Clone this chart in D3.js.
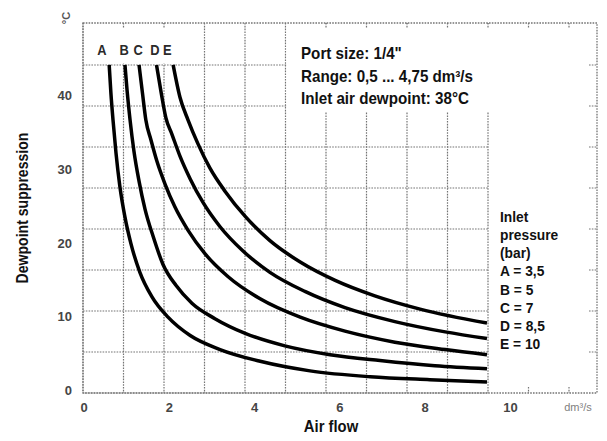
<!DOCTYPE html>
<html><head><meta charset="utf-8">
<script src="https://cdn.jsdelivr.net/npm/d3@7"></script>
<style>
html,body{margin:0;padding:0;background:#fff;}
svg{display:block;}
text{font-family:"Liberation Sans",Arial,Helvetica,sans-serif;font-weight:bold;}
</style></head><body>
<svg id="chart" width="607" height="441"></svg>
<script>
// ---- data ----
const xTickValues = [0, 2, 4, 6, 8, 10];
const yTickValues = [0, 10, 20, 30, 40];
const curveNames = ["A", "B", "C", "D", "E"];
const inletPressure = ["3,5", "5", "7", "8,5", "10"];
const curveLabelFlow = [0.43, 0.95, 1.28, 1.67, 1.96];

const flowA = [0.60, 0.64, 0.69, 0.76, 0.85, 0.97, 1.11, 1.32, 1.60, 1.98, 2.50, 3.20, 4.14, 5.31, 6.72, 8.12, 9.46];
const dewA  = [44.2, 40.4, 36.7, 32.2, 27.7, 23.5, 19.9, 16.0, 12.7, 9.9, 7.4, 5.5, 3.9, 2.6, 1.8, 1.4, 1.1];
const flowB = [0.97, 1.02, 1.09, 1.18, 1.30, 1.44, 1.63, 1.86, 2.17, 2.54, 3.08, 3.79, 4.72, 5.78, 6.95, 8.24, 9.46];
const dewB  = [44.2, 40.7, 36.7, 32.5, 28.4, 24.6, 20.9, 17.1, 14.2, 11.8, 9.7, 7.7, 6.0, 4.8, 4.0, 3.3, 2.9];
const flowC = [1.30, 1.38, 1.46, 1.58, 1.72, 1.91, 2.14, 2.45, 2.85, 3.39, 4.14, 5.08, 6.13, 7.30, 8.48, 9.46];
const dewC  = [44.2, 40.4, 36.7, 34.0, 31.1, 28.0, 24.9, 21.7, 18.5, 15.4, 12.4, 9.9, 8.0, 6.5, 5.5, 4.8];
const flowD = [1.71, 1.82, 1.93, 2.07, 2.26, 2.50, 2.80, 3.20, 3.72, 4.37, 5.19, 6.13, 7.30, 8.48, 9.46];
const dewD  = [44.2, 40.4, 37.0, 34.8, 31.8, 28.7, 25.5, 22.2, 19.0, 16.0, 13.4, 11.2, 9.3, 7.9, 7.0];
const flowE = [2.10, 2.26, 2.45, 2.68, 2.96, 3.32, 3.79, 4.37, 5.08, 5.90, 6.83, 7.89, 9.46];
const dewE  = [44.2, 39.8, 36.7, 33.5, 30.2, 27.0, 23.6, 20.3, 17.4, 14.9, 12.8, 11.0, 9.1];

const infoLines = ["Port size: 1/4\"", "Range: 0,5 ... 4,75 dm\u00b3/s", "Inlet air dewpoint: 38\u00b0C"];
const legendTitle = ["Inlet", "pressure", "(bar)"];

// ---- build ----
const series = [
  {name: "A", flow: flowA, dew: dewA},
  {name: "B", flow: flowB, dew: dewB},
  {name: "C", flow: flowC, dew: dewC},
  {name: "D", flow: flowD, dew: dewD},
  {name: "E", flow: flowE, dew: dewE}
];

const svg = d3.select("#chart");
svg.append("rect").attr("width", 607).attr("height", 441).attr("fill", "#fff");

// data scales (aligned to the tick labels)
const x = d3.scaleLinear().domain([0, 10]).range([83.6, 510]);
const y = d3.scaleLinear().domain([0, 40]).range([390, 95.8]);
// printed grid
const gx = d3.scaleLinear().domain([0, 10]).range([83, 488]);
const gy = d3.scaleLinear().domain([0, 40]).range([393, 65]);
const pLeft = 83, pRight = 597, pTop = 23, pBottom = 393;

const gridColor = "#747474";
const dash = "1.6,1.2";
const grid = svg.append("g").attr("stroke", gridColor).attr("stroke-width", 1.2)
  .attr("stroke-dasharray", dash).attr("fill", "none");

grid.selectAll(".v").data(d3.range(0, 11)).join("line")
  .attr("x1", d => gx(d)).attr("x2", d => gx(d)).attr("y1", pTop).attr("y2", pBottom);
grid.selectAll(".h").data(d3.range(0, 41, 5)).join("line")
  .attr("x1", pLeft).attr("x2", gx(10)).attr("y1", d => gy(d)).attr("y2", d => gy(d));

// blank areas of the printed grid
const masks = [
  [84.5, 24, 202, 63.5],
  [286.5, 24, 490, 112],
  [489.5, 24, 596, 392]
];
svg.selectAll(".mask").data(masks).join("rect")
  .attr("x", d => d[0]).attr("y", d => d[1])
  .attr("width", d => d[2] - d[0]).attr("height", d => d[3] - d[1])
  .attr("fill", "#fff");

const ticks = svg.append("g").attr("stroke", gridColor).attr("stroke-width", 1.2)
  .attr("stroke-dasharray", dash);
ticks.selectAll(".tt").data([1, 2, 6, 7, 8, 9, 10, 11, 12]).join("line")
  .attr("x1", d => gx(d)).attr("x2", d => gx(d)).attr("y1", pTop).attr("y2", pTop + 5);
ticks.selectAll(".bt").data([11, 12]).join("line")
  .attr("x1", d => gx(d)).attr("x2", d => gx(d)).attr("y1", pBottom - 6).attr("y2", pBottom);
ticks.selectAll(".rt").data(d3.range(5, 41, 5)).join("line")
  .attr("x1", pRight - 8).attr("x2", pRight).attr("y1", d => gy(d)).attr("y2", d => gy(d));

svg.append("rect").attr("x", pLeft).attr("y", pTop).attr("width", pRight - pLeft).attr("height", pBottom - pTop)
  .attr("fill", "none").attr("stroke", gridColor).attr("stroke-width", 1.3).attr("stroke-dasharray", dash);

// curves
const line = d3.line().x(d => x(d[0])).y(d => y(d[1])).curve(d3.curveMonotoneX);
svg.append("g").selectAll("path").data(series).join("path")
  .attr("d", s => line(s.flow.map((f, i) => [f, s.dew[i]])))
  .attr("fill", "none").attr("stroke", "#000").attr("stroke-width", 3.5)
  .attr("stroke-linejoin", "round");

// condensed text helper
function ctext(parent, tx, ty, str, size, opts = {}) {
  return parent.append("text")
    .attr("transform", `translate(${tx},${ty})${opts.rotate ? " rotate(" + opts.rotate + ")" : ""} scale(${opts.sx || 0.92},1)`)
    .attr("font-size", size).attr("fill", opts.fill || "#111")
    .attr("text-anchor", opts.anchor || "start").text(str);
}

// curve labels
const lab = svg.append("g");
curveNames.forEach((n, i) => ctext(lab, x(curveLabelFlow[i]), 55, n, 14, {anchor: "middle", fill: "#2a2a2a"}));

// axes
const xAxis = svg.append("g").attr("transform", "translate(0,403)")
  .call(d3.axisBottom(x).tickValues(xTickValues).tickSize(0).tickPadding(0));
xAxis.select(".domain").remove();
xAxis.selectAll("text").attr("font-size", 13).attr("fill", "#454545");

const yAxis = svg.append("g").attr("transform", "translate(72,0)")
  .call(d3.axisLeft(y).tickValues(yTickValues).tickSize(0).tickPadding(0));
yAxis.select(".domain").remove();
yAxis.selectAll("text").attr("font-size", 13).attr("fill", "#454545");

// units
svg.append("text").attr("x", 578).attr("y", 411).attr("text-anchor", "middle")
  .attr("font-size", 11).attr("fill", "#808080").style("font-weight", "normal").text("dm\u00b3/s");
svg.append("text").attr("transform", "translate(70,18) rotate(-90)").attr("text-anchor", "middle")
  .attr("font-size", 11).attr("fill", "#555").text("\u00b0C");

// axis titles
ctext(svg, 331, 432, "Air flow", 16.5, {anchor: "middle", sx: 0.9});
ctext(svg, 28, 208, "Dewpoint suppression", 16, {anchor: "middle", rotate: -90, sx: 0.88});

// info box
const info = svg.append("g");
infoLines.forEach((s, i) => ctext(info, 301, 59 + i * 22.5, s, 16.5));

// legend
const legendLines = legendTitle.concat(curveNames.map((n, i) => n + " = " + inletPressure[i]));
const leg = svg.append("g");
legendLines.forEach((s, i) => ctext(leg, 500, 221.5 + i * 18.25, s, 15));
</script>
</body></html>
